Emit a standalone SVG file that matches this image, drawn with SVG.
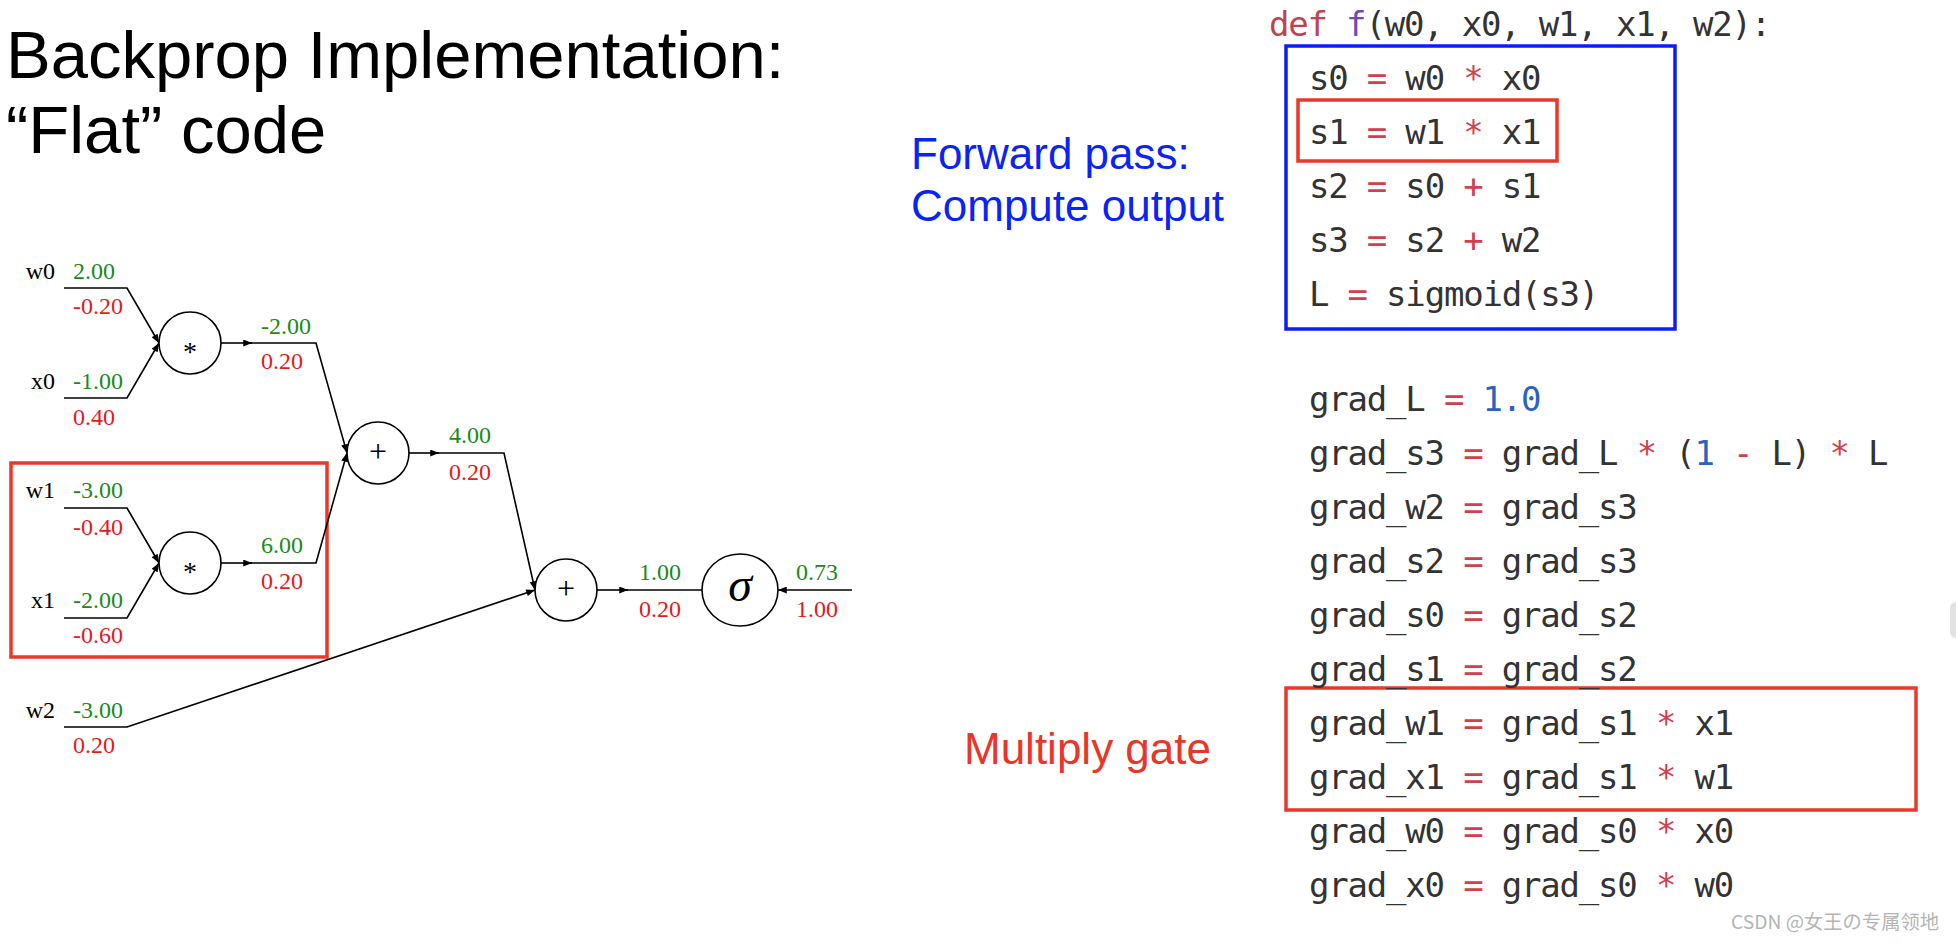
<svg xmlns="http://www.w3.org/2000/svg" xmlns:xlink="http://www.w3.org/1999/xlink" width="1956" height="942" viewBox="0 0 1956 942">
<style>
.title{font-family:"Liberation Sans",Arial,sans-serif;font-size:67px;fill:#000}
.note{font-family:"Liberation Sans",Arial,sans-serif;font-size:44px}
.blue{fill:#0a24f5}
.redt{fill:#e8372a}
.g{font-family:"Liberation Serif","Times New Roman",serif;font-size:24px}
.lab{fill:#000;text-anchor:end}
.fw{fill:#1b8a1b}
.bw{fill:#e31b1b}
.gate{fill:#fff;stroke:#000;stroke-width:1.6}
.op{font-family:"Liberation Serif","Times New Roman",serif;fill:#000;text-anchor:middle}
.edge{fill:none;stroke:#000;stroke-width:1.6}
.code{font-family:"DejaVu Sans Mono",monospace;font-size:34px;letter-spacing:-1.2px;fill:#333}
.kw{fill:#c0434f}
.fn{fill:#7048b8}
.o{fill:#d2404e}
.num{fill:#2a62c4}
.boxb{fill:none;stroke:#0a1ef5;stroke-width:3.5}
.boxr{fill:none;stroke:#e8392b;stroke-width:3.5}
</style>
<defs>
<marker id="arr" viewBox="0 0 10 8" refX="10" refY="4" markerWidth="10" markerHeight="7" markerUnits="userSpaceOnUse" orient="auto">
<path d="M0,0 L10,4 L0,8 Z" fill="#000"/>
</marker>
</defs>
<rect width="1956" height="942" fill="#fff"/>

<g id="title">
<text class="title" x="6" y="78">Backprop Implementation:</text>
<text class="title" x="6" y="153">“Flat” code</text>
</g>

<g id="label-forward">
<text class="note blue" x="911" y="169">Forward pass:</text>
<text class="note blue" x="911" y="221">Compute output</text>
</g>
<g id="label-multiply">
<text class="note redt" x="964" y="764">Multiply gate</text>
</g>

<g id="highlight-graph">
<rect class="boxr" x="11" y="463" width="316" height="194"/>
</g>

<g id="connectors">
<path class="edge" d="M64,288 L127,288 L159,343" marker-end="url(#arr)"/>
<path class="edge" d="M64,398 L127,398 L159,343" marker-end="url(#arr)"/>
<path class="edge" d="M221,343 L252,343" marker-end="url(#arr)"/>
<path class="edge" d="M250,343 L316,343 L347,453" marker-end="url(#arr)"/>
<path class="edge" d="M64,508 L127,508 L159,563" marker-end="url(#arr)"/>
<path class="edge" d="M64,618 L127,618 L159,563" marker-end="url(#arr)"/>
<path class="edge" d="M221,563 L252,563" marker-end="url(#arr)"/>
<path class="edge" d="M250,563 L316,563 L347,453" marker-end="url(#arr)"/>
<path class="edge" d="M409,453 L439,453" marker-end="url(#arr)"/>
<path class="edge" d="M437,453 L504,453 L535,590" marker-end="url(#arr)"/>
<path class="edge" d="M64,727 L127,727 L535,590" marker-end="url(#arr)"/>
<path class="edge" d="M597,590 L628,590" marker-end="url(#arr)"/>
<path class="edge" d="M626,590 L702,590"/>
<path class="edge" d="M852,590 L778,590" marker-end="url(#arr)"/>
</g>

<g id="in-w0" class="g">
<text class="lab" x="55" y="279">w0</text>
<text class="fw" x="73" y="279">2.00</text>
<text class="bw" x="73" y="314">-0.20</text>
</g>
<g id="in-x0" class="g">
<text class="lab" x="55" y="389">x0</text>
<text class="fw" x="73" y="389">-1.00</text>
<text class="bw" x="73" y="425">0.40</text>
</g>
<g id="in-w1" class="g">
<text class="lab" x="55" y="498">w1</text>
<text class="fw" x="73" y="498">-3.00</text>
<text class="bw" x="73" y="535">-0.40</text>
</g>
<g id="in-x1" class="g">
<text class="lab" x="55" y="608">x1</text>
<text class="fw" x="73" y="608">-2.00</text>
<text class="bw" x="73" y="643">-0.60</text>
</g>
<g id="in-w2" class="g">
<text class="lab" x="55" y="718">w2</text>
<text class="fw" x="73" y="718">-3.00</text>
<text class="bw" x="73" y="753">0.20</text>
</g>

<g id="mul0">
<circle class="gate" cx="190" cy="343" r="31"/>
<text class="op" x="190" y="361" font-size="28">*</text>
<text class="g fw" x="261" y="334">-2.00</text>
<text class="g bw" x="261" y="369">0.20</text>
</g>
<g id="mul1">
<circle class="gate" cx="190" cy="563" r="31"/>
<text class="op" x="190" y="581" font-size="28">*</text>
<text class="g fw" x="261" y="553">6.00</text>
<text class="g bw" x="261" y="589">0.20</text>
</g>
<g id="add0">
<circle class="gate" cx="378" cy="453" r="31"/>
<text class="op" x="378" y="462" font-size="32">+</text>
<text class="g fw" x="449" y="443">4.00</text>
<text class="g bw" x="449" y="480">0.20</text>
</g>
<g id="add1">
<circle class="gate" cx="566" cy="590" r="31"/>
<text class="op" x="566" y="599" font-size="32">+</text>
<text class="g fw" x="639" y="580">1.00</text>
<text class="g bw" x="639" y="617">0.20</text>
</g>
<g id="sigmoid">
<ellipse class="gate" cx="740" cy="590" rx="38" ry="36" stroke-width="2.4"/>
<text class="op" x="740" y="601" font-size="48" font-style="italic" fill="#1a1a1a">σ</text>
<text class="g fw" x="796" y="580">0.73</text>
<text class="g bw" x="796" y="617">1.00</text>
</g>

<g id="code-def" class="code">
<text x="1269" y="36"><tspan class="kw">def</tspan> <tspan class="fn">f</tspan>(w0, x0, w1, x1, w2):</text>
</g>

<g id="code-forward" class="code">
<rect class="boxb" x="1286" y="46" width="389" height="283"/>
<rect class="boxr" x="1298" y="100" width="259" height="61"/>
<text x="1309" y="90">s0 <tspan class="o">=</tspan> w0 <tspan class="o">*</tspan> x0</text>
<text x="1309" y="144">s1 <tspan class="o">=</tspan> w1 <tspan class="o">*</tspan> x1</text>
<text x="1309" y="198">s2 <tspan class="o">=</tspan> s0 <tspan class="o">+</tspan> s1</text>
<text x="1309" y="252">s3 <tspan class="o">=</tspan> s2 <tspan class="o">+</tspan> w2</text>
<text x="1309" y="306">L <tspan class="o">=</tspan> sigmoid(s3)</text>
</g>

<g id="code-backward" class="code">
<rect class="boxr" x="1286" y="688" width="630" height="122"/>
<text x="1309" y="411">grad_L <tspan class="o">=</tspan> <tspan class="num">1.0</tspan></text>
<text x="1309" y="465">grad_s3 <tspan class="o">=</tspan> grad_L <tspan class="o">*</tspan> (<tspan class="num">1</tspan> <tspan class="o">-</tspan> L) <tspan class="o">*</tspan> L</text>
<text x="1309" y="519">grad_w2 <tspan class="o">=</tspan> grad_s3</text>
<text x="1309" y="573">grad_s2 <tspan class="o">=</tspan> grad_s3</text>
<text x="1309" y="627">grad_s0 <tspan class="o">=</tspan> grad_s2</text>
<text x="1309" y="681">grad_s1 <tspan class="o">=</tspan> grad_s2</text>
<text x="1309" y="735">grad_w1 <tspan class="o">=</tspan> grad_s1 <tspan class="o">*</tspan> x1</text>
<text x="1309" y="789">grad_x1 <tspan class="o">=</tspan> grad_s1 <tspan class="o">*</tspan> w1</text>
<text x="1309" y="843">grad_w0 <tspan class="o">=</tspan> grad_s0 <tspan class="o">*</tspan> x0</text>
<text x="1309" y="897">grad_x0 <tspan class="o">=</tspan> grad_s0 <tspan class="o">*</tspan> w0</text>
</g>

<g id="scroll-handle">
<rect x="1950" y="602" width="14" height="36" rx="6" fill="#e2e2e2"/>
</g>

<g id="watermark">
<text x="1731" y="929" font-family="'Noto Sans CJK SC', sans-serif" font-size="19" fill="#b4b4b4" textLength="208" lengthAdjust="spacingAndGlyphs">CSDN @女王の专属领地</text>
</g>
</svg>
